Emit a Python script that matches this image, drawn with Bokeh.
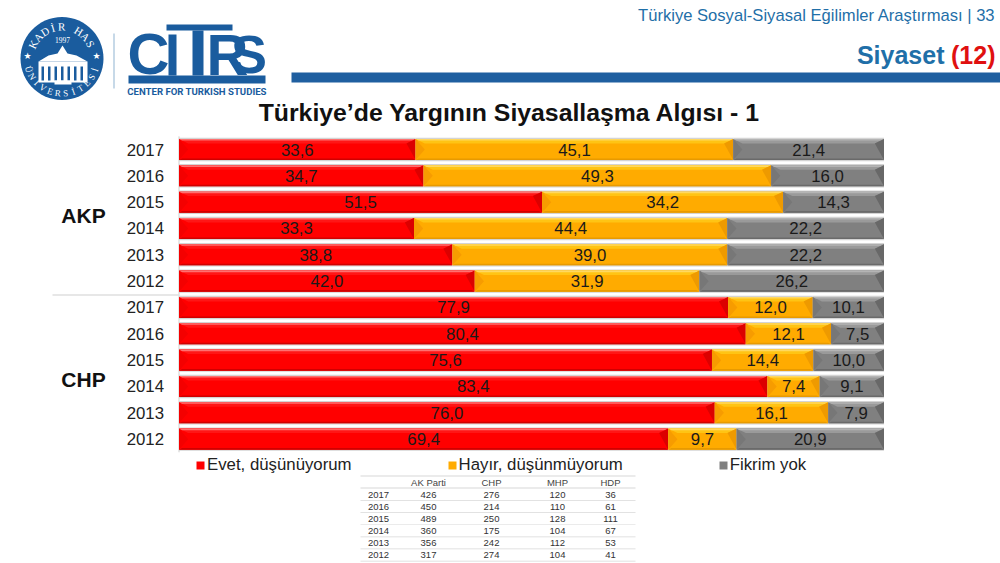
import math
from bokeh.embed import file_html
from bokeh.resources import INLINE
from bokeh.plotting import figure
from bokeh.core.properties import value
from bokeh.models import (Range1d, ColumnDataSource, Label,
                          BoxAnnotation, PolyAnnotation, Legend, LegendItem)

years = ["2017", "2016", "2015", "2014", "2013", "2012"]
groups = ["AKP", "CHP"]
evet = [33.6, 34.7, 51.5, 33.3, 38.8, 42.0, 77.9, 80.4, 75.6, 83.4, 76.0, 69.4]
hayir = [45.1, 49.3, 34.2, 44.4, 39.0, 31.9, 12.0, 12.1, 14.4, 7.4, 16.1, 9.7]
fikrim = [21.4, 16.0, 14.3, 22.2, 22.2, 26.2, 10.1, 7.5, 10.0, 9.1, 7.9, 20.9]
series_names = ["Evet, düşünüyorum", "Hayır, düşünmüyorum", "Fikrim yok"]
table_header = ["AK Parti", "CHP", "MHP", "HDP"]
table_years = years
table_akp = [426, 450, 489, 360, 356, 317]
table_chp = [276, 214, 250, 175, 242, 274]
table_mhp = [120, 110, 128, 104, 112, 104]
table_hdp = [36, 61, 111, 67, 53, 41]

FONT = "Liberation Sans"
BLUE = "#1a5c9e"
W, H = 1000, 563
# the frame fills the canvas; value scale: 0..100 over 178.5..883.5 px, rows 26.33 px apart from 149 px
X0 = 178.5
SX = 7.05
SY = 26.33
x_start = -X0 / SX
x_end = (W - X0) / SX
y_start = (H - 149) / SY
y_end = -149 / SY

p = figure(width=W, height=H, output_backend="svg", toolbar_location=None,
           x_range=Range1d(x_start, x_end), y_range=Range1d(y_start, y_end),
           x_axis_type=None, y_axis_type=None,
           min_border_left=0, min_border_right=0, min_border_top=0, min_border_bottom=0)
p.outline_line_color = None
p.grid.visible = False
p.background_fill_color = "white"
p.border_fill_color = "white"

n = len(evet)
rows = list(range(n))

# year labels and axis line
year_src = ColumnDataSource(dict(x=[0] * n, y=rows, t=years * 2))
p.text(x="x", y="y", text="t", source=year_src, x_offset=-15, text_align="right", text_baseline="middle",
       text_font=value(FONT), text_font_size="16.8px", text_color="#222222")
p.segment(x0=[0], x1=[0], y0=[-0.5], y1=[n - 0.5], line_color="#cfcfcf", line_width=1)

# base, upper strip, top edge, bottom edge, left face, right face
colors = [("#ff0000", "#ff1616", "#ff7070", "#d00000", "#f40000", "#dc0000"),
          ("#ffab00", "#ffc414", "#ffd860", "#e89a00", "#f79c00", "#ee9a00"),
          ("#808080", "#9a9a9a", "#b4b4b4", "#6a6a6a", "#777777", "#686868")]
BAR_H = 0.80
BEV_X = 1.3
BEV_Y = 0.17
EDGE = 0.06
legend_items = []
texts = []
for k, vals in enumerate([evet, hayir, fikrim]):
    left, right, labels, mid = [], [], [], []
    for i in rows:
        tot = evet[i] + hayir[i] + fikrim[i]
        before = ([0, evet[i], evet[i] + hayir[i]])[k]
        l = before / tot * 100
        r = (before + vals[i]) / tot * 100
        left.append(l)
        right.append(r)
        mid.append((l + r) / 2)
        labels.append(f"{vals[i]:.1f}".replace(".", ","))
    base, light, edge, dark, lface, rface = colors[k]
    src = ColumnDataSource(dict(y=rows, left=left, right=right, mid=mid, label=labels))
    p.hbar(y="y", left="left", right="right", height=BAR_H + 0.09, source=src,
           fill_color="#d4d4d4", line_color=None)
    bars = p.hbar(y="y", left="left", right="right", height=BAR_H, source=src,
                  fill_color=base, line_color=None)
    legend_items.append(LegendItem(label=series_names[k], renderers=[bars]))
    # bevel faces: computed from the same values
    t, b = BAR_H / 2, BAR_H / 2 - BEV_Y
    top_x, top_y, e_x, e_y, bot_x, bot_y, rx, ry, lx, ly = [], [], [], [], [], [], [], [], [], []
    for i in rows:
        l, r = left[i], right[i]
        top_x.append([l, r, r - BEV_X, l + BEV_X])
        top_y.append([i - t, i - t, i - b, i - b])
        e_x.append([l, r, r - BEV_X / 3, l + BEV_X / 3])
        e_y.append([i - t, i - t, i - t + EDGE, i - t + EDGE])
        bot_x.append([l, r, r - BEV_X / 3, l + BEV_X / 3])
        bot_y.append([i + t, i + t, i + t - EDGE, i + t - EDGE])
        rx.append([r, r, r - BEV_X])
        ry.append([i - t, i + t, i - b])
        lx.append([l, l, l + BEV_X])
        ly.append([i - t, i + t, i])
    p.patches(top_x, top_y, fill_color=light, line_color=None)
    p.patches(e_x, e_y, fill_color=edge, line_color=None)
    p.patches(bot_x, bot_y, fill_color=dark, line_color=None)
    p.patches(lx, ly, fill_color=lface, line_color=None)
    p.patches(rx, ry, fill_color=rface, line_color=None)
    texts.append(src)

for src in texts:
    p.text(x="mid", y="y", text="label", source=src, text_align="center", text_baseline="middle",
           text_font_size="16.8px", text_font=value(FONT), text_color="#1a1a1a")

legend = Legend(items=legend_items, orientation="horizontal", location=(195, 88),
                spacing=95, glyph_width=10, glyph_height=10, label_standoff=2,
                label_text_font=FONT, label_text_font_size="16.8px", label_text_color="#222222",
                background_fill_alpha=0, border_line_alpha=0, padding=0, margin=0)
p.add_layout(legend, "center")


def label(x, y, text, size, color="#222222", style="normal", font=FONT, align="left",
          base="middle", angle=0.0):
    p.add_layout(Label(x=x, y=H - y, x_units="screen", y_units="screen", text=text,
                       text_font=font, text_font_size=f"{size}px", text_color=color,
                       text_font_style=style, text_align=align, text_baseline=base, angle=angle))


def box(x0, y0, x1, y1, color):
    p.add_layout(BoxAnnotation(left=x0, right=x1, top=H - y0, bottom=H - y1,
                               left_units="screen", right_units="screen",
                               top_units="screen", bottom_units="screen",
                               fill_color=color, fill_alpha=1, line_color=None, line_alpha=0))


def poly(pts, color):
    p.add_layout(PolyAnnotation(xs=[a for a, _ in pts], ys=[H - b for _, b in pts],
                                xs_units="screen", ys_units="screen",
                                fill_color=color, fill_alpha=1, line_color=None))


# header
label(995, 15, "Türkiye Sosyal-Siyasal Eğilimler Araştırması | 33", 16.6, color="#1f6fa8", align="right")
label(944, 54, "Siyaset", 25, color="#1f6fa8", style="bold", align="right")
label(950.5, 54, "(12)", 25, color="#e01010", style="bold")
box(291, 72, 1000, 82, "#1f5fa0")
label(509, 112, "Türkiye’de Yargının Siyasallaşma Algısı - 1", 24.8, color="#111111", style="bold", align="center")

# groups and separator
label(83, 215, groups[0], 21, color="#111111", style="bold", align="center")
label(83, 379, groups[1], 21, color="#111111", style="bold", align="center")
box(52, 294, 178, 295, "#cfcfcf")

# university seal
cxx, cyy, R = 61.5, 58, 41.5
poly([(cxx + R * math.cos(a * math.pi / 30), cyy + R * math.sin(a * math.pi / 30)) for a in range(60)], BLUE)
poly([(38, 61), (48, 55), (57, 53), (62, 45), (67, 53), (76, 55), (87, 61)], "#ffffff")
box(38, 61, 87, 82, "#ffffff")
for i in range(7):
    box(41 + i * 6.5, 66, 43.5 + i * 6.5, 80, BLUE)
box(54, 80, 71, 84, "#ffffff")
label(62, 39, "1997", 7.5, color="#ffffff", align="center", font="Liberation Serif")
label(27, 55, "★", 9, color="#ffffff", align="center", font="DejaVu Sans")
label(96, 55, "★", 9, color="#ffffff", align="center", font="DejaVu Sans")
for txt, a0, a1, r_, up, fs in [("KADİR HAS", -154, -27, 32, True, 11),
                                ("ÜNİVERSİTESİ", 162, 19, 35, False, 9)]:
    step = (a1 - a0) / (len(txt) - 1)
    for j, ch in enumerate(txt):
        if ch == " ":
            continue
        a = math.radians(a0 + j * step)
        px_, py_ = cxx + r_ * math.cos(a), cyy + r_ * math.sin(a)
        rot = -(a + math.pi / 2) if up else -(a - math.pi / 2)
        label(px_, py_, ch, fs, color="#ffffff", align="center", angle=rot, font="Liberation Serif")
box(113, 33, 114, 88, "#8fb3d2")

# CITRS mark
label(148, 53, "C", 58, color=BLUE, style="bold", align="center")
label(227, 54, "R", 58, color=BLUE, style="bold", align="center")
label(248.5, 53, "S", 54, color=BLUE, style="bold", align="center")
box(166, 24, 232, 30, BLUE)
box(168, 34, 176, 75, BLUE)
box(192, 30, 203, 75, BLUE)
box(128, 75, 265, 83, BLUE)
label(196.5, 91, "CENTER FOR TURKISH STUDIES", 9.6, color=BLUE, style="bold", align="center", font="Roboto")

# sample table
T_L, T_R = 360, 635
cols = [428, 491, 557, 610]
first = 494
pitch = 12.1
box(T_L, 475, T_R, 476, "#d8d8d8")
box(T_L, 487, T_R, 488, "#d8d8d8")
for c, h in zip(cols, table_header):
    label(c, 482, h, 9.5, color="#444444", align="center")
for i, y_ in enumerate(table_years):
    yy = first + i * pitch
    label(378, yy, y_, 9.5, color="#333333", align="center")
    for c, col in zip(cols, [table_akp, table_chp, table_mhp, table_hdp]):
        label(c, yy, str(col[i]), 9.5, color="#333333", align="center")
    box(T_L, yy + 5.7, T_R, yy + 6.4, "#d8d8d8")

open("out.html", "w").write(file_html(p, INLINE))
